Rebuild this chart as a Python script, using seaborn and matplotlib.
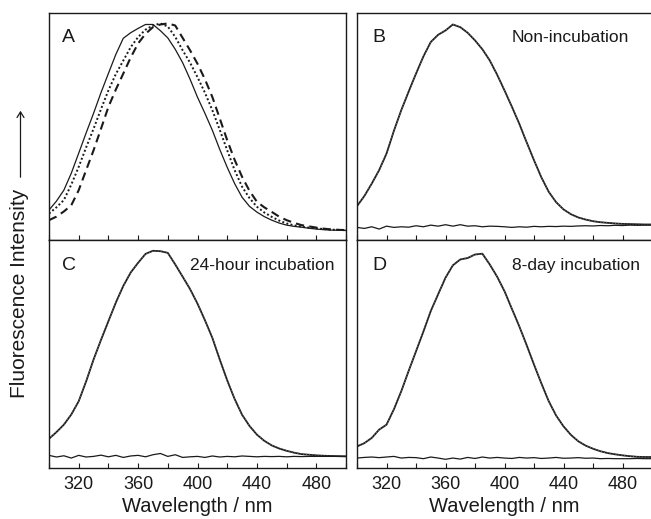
import matplotlib
matplotlib.use("Agg")
import matplotlib.pyplot as plt
import seaborn as sns
import pandas as pd

# ---- data, wavelength grid every 5 nm ----
wl = list(range(300, 501, 5))

A_solid = [0.097, 0.140, 0.193, 0.275, 0.372, 0.470, 0.565, 0.665, 0.758, 0.850, 0.928,
           0.955, 0.976, 0.995, 0.995, 0.965, 0.930, 0.875, 0.810, 0.730, 0.643, 0.565,
           0.483, 0.390, 0.304, 0.225, 0.159, 0.115, 0.087, 0.065, 0.048, 0.034, 0.024,
           0.018, 0.014, 0.009, 0.005, 0.002, 0.0, -0.001, -0.002]
A_dot = [0.080, 0.110, 0.145, 0.220, 0.306, 0.400, 0.490, 0.585, 0.676, 0.755, 0.820,
         0.885, 0.934, 0.970, 0.990, 1.000, 0.985, 0.935, 0.870, 0.810, 0.740, 0.665,
         0.580, 0.485, 0.386, 0.290, 0.210, 0.155, 0.113, 0.085, 0.064, 0.046, 0.032,
         0.023, 0.016, 0.012, 0.008, 0.005, 0.002, 0.001, 0.0]
A_dash = [0.048, 0.065, 0.090, 0.120, 0.193, 0.290, 0.386, 0.490, 0.596, 0.680, 0.757,
          0.835, 0.903, 0.950, 0.982, 0.995, 1.000, 0.990, 0.930, 0.870, 0.805, 0.730,
          0.644, 0.540, 0.435, 0.340, 0.258, 0.190, 0.137, 0.110, 0.088, 0.065, 0.048,
          0.035, 0.024, 0.018, 0.012, 0.007, 0.003, 0.001, 0.0]

B_main = [0.116, 0.165, 0.225, 0.290, 0.370, 0.480, 0.580, 0.670, 0.757, 0.840, 0.910,
          0.945, 0.966, 0.995, 0.982, 0.955, 0.918, 0.875, 0.821, 0.752, 0.676, 0.597,
          0.515, 0.425, 0.338, 0.255, 0.185, 0.135, 0.100, 0.077, 0.061, 0.051, 0.043,
          0.038, 0.035, 0.032, 0.030, 0.029, 0.028, 0.027, 0.027]
C_main = [0.093, 0.125, 0.161, 0.210, 0.274, 0.370, 0.475, 0.570, 0.660, 0.750, 0.830,
          0.895, 0.942, 0.985, 1.000, 0.998, 0.990, 0.934, 0.875, 0.815, 0.745, 0.665,
          0.580, 0.475, 0.375, 0.285, 0.209, 0.155, 0.113, 0.083, 0.061, 0.046, 0.035,
          0.026, 0.019, 0.016, 0.013, 0.011, 0.010, 0.009, 0.008]
D_main = [0.056, 0.072, 0.097, 0.137, 0.161, 0.235, 0.322, 0.420, 0.515, 0.610, 0.709,
          0.790, 0.870, 0.930, 0.958, 0.965, 0.982, 0.986, 0.934, 0.875, 0.805, 0.720,
          0.636, 0.545, 0.451, 0.360, 0.274, 0.205, 0.153, 0.112, 0.081, 0.060, 0.045,
          0.033, 0.024, 0.018, 0.013, 0.009, 0.006, 0.005, 0.005]

B_noise = [0.013, 0.008, 0.016, 0.005, 0.019, 0.013, 0.016, 0.014, 0.021, 0.016, 0.024,
           0.019, 0.026, 0.019, 0.026, 0.019, 0.021, 0.016, 0.019, 0.018, 0.016, 0.013,
           0.016, 0.014, 0.018, 0.016, 0.018, 0.017, 0.019, 0.018, 0.020, 0.021, 0.020,
           0.022, 0.021, 0.023, 0.022, 0.024, 0.023, 0.024, 0.024]
C_noise = [0.013, 0.005, 0.011, 0.0, 0.013, 0.005, 0.008, 0.014, 0.006, 0.013, 0.003,
           0.010, 0.013, 0.006, 0.016, 0.022, 0.008, 0.016, 0.003, 0.006, 0.008, 0.003,
           0.010, 0.005, 0.008, 0.006, 0.010, 0.008, 0.006, 0.008, 0.007, 0.008, 0.006,
           0.008, 0.007, 0.008, 0.008, 0.008, 0.008, 0.008, 0.008]
D_noise = [0.0, 0.003, 0.005, 0.002, 0.005, 0.008, 0.0, 0.003, 0.002, -0.003, 0.005,
           0.0, -0.006, 0.0, -0.005, 0.003, -0.002, 0.005, 0.0, 0.003, 0.0, -0.002,
           0.003, 0.0, 0.002, -0.002, 0.0, 0.003, -0.001, 0.0, 0.002, -0.001, 0.0,
           -0.003, -0.002, -0.003, -0.003, -0.003, -0.002, -0.003, -0.003]

panel_letters = ["A", "B", "C", "D"]
panel_titles = ["", "Non-incubation", "24-hour incubation", "8-day incubation"]
xticks = [300, 320, 340, 360, 380, 400, 420, 440, 460, 480, 500]
xticklabels = ["", "320", "", "360", "", "400", "", "440", "", "480", ""]

# ---- style ----
sns.set_theme(style="white")
plt.rcParams["font.family"] = ["Liberation Sans", "DejaVu Sans"]
plt.rcParams["axes.edgecolor"] = "#222222"
plt.rcParams["axes.linewidth"] = 1.0

W, H = 651, 519
fig = plt.figure(figsize=(W / 100, H / 100), dpi=100)

def frac_rect(x0, x1, y0, y1):
    return [x0 / W, 1 - y1 / H, (x1 - x0) / W, (y1 - y0) / H]

axA = fig.add_axes(frac_rect(49, 346, 12.7, 240))
axB = fig.add_axes(frac_rect(357, 652, 12.7, 240))
axC = fig.add_axes(frac_rect(49, 346, 240, 468))
axD = fig.add_axes(frac_rect(357, 652, 240, 468))
axes = [axA, axB, axC, axD]

ink = "#1a1a1a"

dfA = pd.DataFrame({"wl": wl, "solid": A_solid, "dot": A_dot, "dash": A_dash})
sns.lineplot(data=dfA, x="wl", y="solid", ax=axA, color=ink, lw=0.9, linestyle="-")
sns.lineplot(data=dfA, x="wl", y="dot", ax=axA, color=ink, lw=1.4, linestyle=(0, (1, 1.2)))
sns.lineplot(data=dfA, x="wl", y="dash", ax=axA, color=ink, lw=1.5, linestyle=(0, (4, 2.5)))

for ax, main, noise in [(axB, B_main, B_noise), (axC, C_main, C_noise), (axD, D_main, D_noise)]:
    df = pd.DataFrame({"wl": wl, "main": main, "noise": noise})
    sns.lineplot(data=df, x="wl", y="main", ax=ax, color=ink, lw=1.3)
    sns.lineplot(data=df, x="wl", y="main", ax=ax, color="#666666", lw=0.8, linestyle=":")
    sns.lineplot(data=df, x="wl", y="noise", ax=ax, color=ink, lw=0.9)

for i, ax in enumerate(axes):
    ax.set_xlim(300, 500)
    ax.set_ylim(-0.048, 1.052)
    ax.set_yticks([])
    ax.set_xticks(xticks)
    ax.tick_params(axis="x", direction="in", length=3.5, width=0.8, color=ink,
                   bottom=True, top=False, labelsize=13, pad=6, labelcolor=ink)
    ax.set_xlabel("")
    ax.set_ylabel("")
    for s in ax.spines.values():
        s.set_visible(True)
        s.set_color(ink)
        s.set_linewidth(1.0)
    if i < 2:
        ax.set_xticklabels([])
    else:
        ax.set_xticklabels(xticklabels)
        ax.set_xlabel("Wavelength / nm", fontsize=14.5, color=ink, labelpad=3)
    ax.text(0.045 if i in (0, 2) else 0.052, 0.89, panel_letters[i], transform=ax.transAxes,
            fontsize=14, color=ink, ha="left", va="center")
    if panel_titles[i]:
        ax.text(0.922 if i == 1 else 0.96, 0.89, panel_titles[i], transform=ax.transAxes,
                fontsize=12.5, color=ink, ha="right", va="center")

fig.text(20 / W, 1 - 293 / H, "Fluorescence Intensity", rotation=90, fontsize=15,
         color=ink, ha="center", va="center")
fig.add_artist(matplotlib.patches.FancyArrowPatch(
    (20.5 / W, 1 - 180 / H), (20.5 / W, 1 - 108 / H), transform=fig.transFigure,
    arrowstyle="->,head_length=4,head_width=2.5", color=ink, lw=0.9))

fig.savefig("out.png", dpi=100)
